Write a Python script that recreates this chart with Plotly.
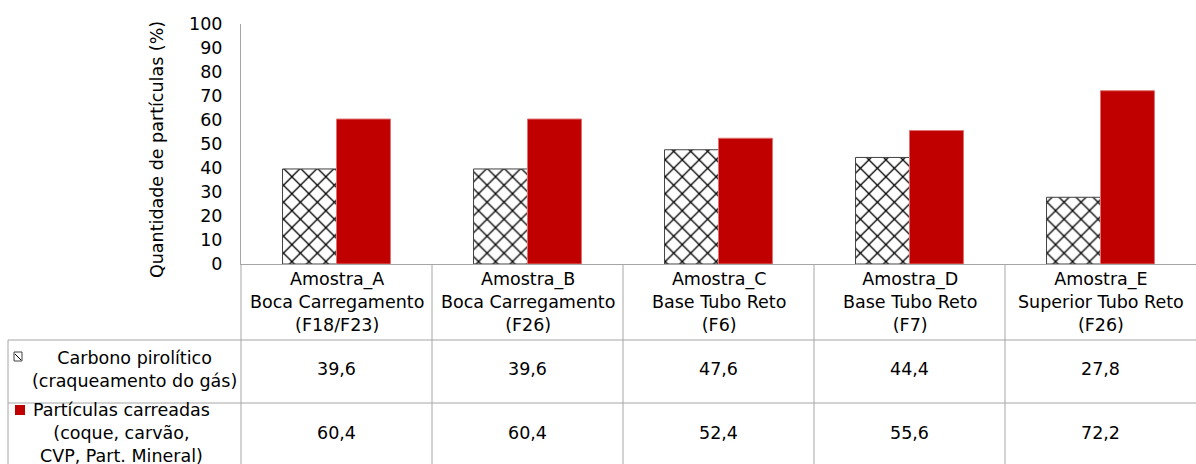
import plotly.graph_objects as go

# ---- data ----
sample_ids = ["Amostra_A", "Amostra_B", "Amostra_C", "Amostra_D", "Amostra_E"]
locations = ["Boca Carregamento", "Boca Carregamento", "Base Tubo Reto", "Base Tubo Reto", "Superior Tubo Reto"]
furnaces = ["(F18/F23)", "(F26)", "(F6)", "(F7)", "(F26)"]
carbono = [39.6, 39.6, 47.6, 44.4, 27.8]
particulas = [60.4, 60.4, 52.4, 55.6, 72.2]
series_names = ["Carbono pirolítico<br>(craqueamento do gás)",
                "Partículas carreadas<br>(coque, carvão,<br>CVP, Part. Mineral)"]
y_ticks = list(range(0, 101, 10))

W, H = 1196, 464
FONT = "DejaVu Sans"
FS = 17.5
GRID = "#a6a6a6"
RED = "#C00000"

def px(x):
    return x / W

def py(y):
    return (H - y) / H

cats = sample_ids
TF = dict(family=FONT, size=FS, color="black")

fig = go.Figure()
fig.add_trace(go.Bar(
    x=cats, y=carbono, name="Carbono",
    marker=dict(color="white", line=dict(color="#404040", width=1),
                pattern=dict(shape="x", fgcolor="black", bgcolor="white", size=12, solidity=0.2)),
))
fig.add_trace(go.Bar(
    x=cats, y=particulas, name="Partículas",
    marker=dict(color=RED, line=dict(color="#e07070", width=1)),
))

x0, x1 = 241, 1196
y_top, y_zero = 24, 264
fig.update_layout(
    template="none",
    width=W, height=H,
    margin=dict(l=0, r=0, t=0, b=0, autoexpand=False),
    paper_bgcolor="white", plot_bgcolor="white",
    showlegend=False,
    barmode="group", bargap=0.435, bargroupgap=0,
    font=TF,
    xaxis=dict(domain=[px(x0), px(x1)], type="category", showticklabels=False, automargin=False,
               showline=True, linecolor=GRID, linewidth=1, showgrid=False, zeroline=False,
               ticks="", fixedrange=True),
    yaxis=dict(domain=[py(y_zero), py(y_top)], range=[0, 100], tickvals=y_ticks, automargin=False,
               showline=True, linecolor=GRID, linewidth=1, showgrid=False, zeroline=False,
               ticks="", ticklabelstandoff=14, tickfont=TF),
)

shapes = []
def hline(y, xa, xb):
    shapes.append(dict(type="line", xref="paper", yref="paper", x0=px(xa), x1=px(xb),
                       y0=py(y), y1=py(y), line=dict(color=GRID, width=1)))
def vline(x, ya, yb):
    shapes.append(dict(type="line", xref="paper", yref="paper", x0=px(x), x1=px(x),
                       y0=py(ya), y1=py(yb), line=dict(color=GRID, width=1)))

hline(340, 8, W)
hline(403, 8, W)
cw = (x1 - x0) / len(cats)
for i in range(len(cats)):
    vline(x0 + i * cw, 264, H)
vline(8, 340, H)

# legend keys
shapes.append(dict(type="rect", xref="paper", yref="paper", x0=px(14), x1=px(22), y0=py(361), y1=py(352),
                   line=dict(color="#404040", width=1), fillcolor="white"))
shapes.append(dict(type="line", xref="paper", yref="paper", x0=px(15), x1=px(21), y0=py(354), y1=py(360),
                   line=dict(color="black", width=1)))
shapes.append(dict(type="rect", xref="paper", yref="paper", x0=px(15), x1=px(25), y0=py(415), y1=py(405),
                   line=dict(color=RED, width=0), fillcolor=RED))
fig.update_layout(shapes=shapes)

ann = []
ann.append(dict(text="Quantidade de partículas (%)", xref="paper", yref="paper",
                x=px(157), y=py(150), xanchor="center", yanchor="middle",
                textangle=-90, showarrow=False, font=TF))
for i, c in enumerate(cats):
    label = f"{sample_ids[i]}<br>{locations[i]}<br>{furnaces[i]}"
    ann.append(dict(text=label, xref="x", yref="paper", x=c, y=py(302), xanchor="center", yanchor="middle",
                    showarrow=False, align="center", font=TF))
    ann.append(dict(text=f"{carbono[i]:.1f}".replace(".", ","), xref="x", yref="paper", x=c,
                    y=py(369), xanchor="center", yanchor="middle", showarrow=False, font=TF))
    ann.append(dict(text=f"{particulas[i]:.1f}".replace(".", ","), xref="x", yref="paper", x=c,
                    y=py(433), xanchor="center", yanchor="middle", showarrow=False, font=TF))
ann.append(dict(text=series_names[0], xref="paper", yref="paper", x=px(134), y=py(369),
                xanchor="center", yanchor="middle", showarrow=False, align="center", font=TF))
ann.append(dict(text=series_names[1], xref="paper", yref="paper", x=px(121), y=py(433),
                xanchor="center", yanchor="middle", showarrow=False, align="center", font=TF))
fig.update_layout(annotations=ann)

fig.write_html("out.html")
